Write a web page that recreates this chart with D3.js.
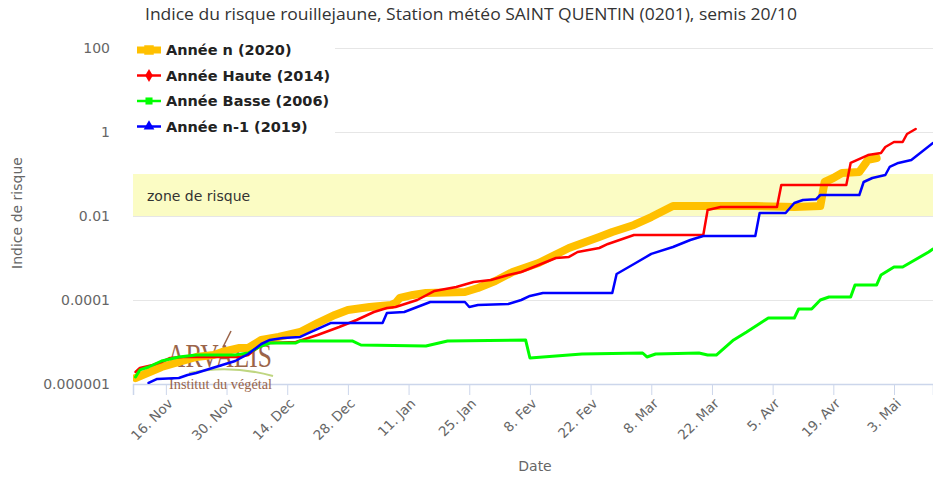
<!DOCTYPE html>
<html>
<head>
<meta charset="utf-8">
<script src="https://cdn.jsdelivr.net/npm/d3@7"></script>
<style>
    body { margin: 0; background: #fff; }
    svg { font-family: "DejaVu Sans", Verdana, sans-serif; }
</style>
</head>
<body>
<div id="chart"></div>
<script>
// dates are on a non-leap calendar (season Nov -> May)
const tickDates = ["2018-11-16", "2018-11-30", "2018-12-14", "2018-12-28", "2019-01-11", "2019-01-25",
    "2019-02-08", "2019-02-22", "2019-03-08", "2019-03-22", "2019-04-05", "2019-04-19", "2019-05-03"];
const tickLabels = ["16. Nov", "30. Nov", "14. Dec", "28. Dec", "11. Jan", "25. Jan",
    "8. Fev", "22. Fev", "8. Mar", "22. Mar", "5. Avr", "19. Avr", "3. Mai"];
const yTicks = [1e-6, 1e-4, 1e-2, 1, 100];
const yTickLabels = ["0.000001", "0.0001", "0.01", "1", "100"];
const riskZone = [0.01, 0.1];

const names = ["Année n (2020)", "Année Haute (2014)", "Année Basse (2006)", "Année n-1 (2019)"];
const colors = ["#ffc000", "#ff0000", "#00ff00", "#0000ff"];

const anneeN = [
    ["2018-11-09", 1.39e-6], ["2018-11-15", 2.54e-6], ["2018-11-19", 3.34e-6], ["2018-11-23", 4.4e-6],
    ["2018-11-27", 4.9e-6], ["2018-11-29", 5.78e-6], ["2018-12-03", 7.2e-6], ["2018-12-05", 7.2e-6],
    ["2018-12-08", 1.12e-5], ["2018-12-12", 1.32e-5], ["2018-12-17", 1.73e-5], ["2018-12-21", 2.83e-5],
    ["2018-12-25", 4.4e-5], ["2018-12-28", 5.78e-5], ["2019-01-02", 6.81e-5], ["2019-01-07", 7.6e-5],
    ["2019-01-08", 8.48e-5], ["2019-01-09", 1.12e-4], ["2019-01-12", 1.32e-4], ["2019-01-15", 1.47e-4],
    ["2019-01-24", 1.55e-4], ["2019-01-27", 1.93e-4], ["2019-01-31", 2.83e-4], ["2019-02-04", 4.64e-4],
    ["2019-02-10", 7.6e-4], ["2019-02-17", 1.73e-3], ["2019-02-24", 3.16e-3], ["2019-02-27", 4.16e-3],
    ["2019-03-04", 6.11e-3], ["2019-03-08", 9.46e-3], ["2019-03-13", 1.73e-2], ["2019-03-20", 1.73e-2],
    ["2019-04-01", 1.73e-2], ["2019-04-10", 1.64e-2], ["2019-04-16", 1.73e-2], ["2019-04-17", 6.45e-2],
    ["2019-04-19", 8.03e-2], ["2019-04-21", 0.106], ["2019-04-25", 0.112], ["2019-04-27", 0.216],
    ["2019-04-29", 0.24]
];

const anneeHaute = [
    ["2018-11-09", 1.93e-6], ["2018-11-10", 2.4e-6], ["2018-11-13", 2.83e-6], ["2018-11-15", 3.34e-6],
    ["2018-11-17", 4.16e-6], ["2018-11-20", 4.4e-6], ["2018-12-03", 4.4e-6], ["2018-12-05", 4.9e-6],
    ["2018-12-08", 8.48e-6], ["2018-12-10", 9.46e-6], ["2018-12-16", 1e-5], ["2018-12-21", 1.47e-5],
    ["2018-12-26", 2.28e-5], ["2018-12-30", 3.34e-5], ["2019-01-03", 5.18e-5], ["2019-01-06", 6.45e-5],
    ["2019-01-08", 6.81e-5], ["2019-01-13", 1e-4], ["2019-01-17", 1.64e-4], ["2019-01-22", 2.04e-4],
    ["2019-01-26", 2.68e-4], ["2019-01-30", 2.99e-4], ["2019-02-03", 3.94e-4], ["2019-02-06", 4.64e-4],
    ["2019-02-10", 6.81e-4], ["2019-02-14", 1e-3], ["2019-02-17", 1.06e-3], ["2019-02-19", 1.39e-3],
    ["2019-02-24", 1.73e-3], ["2019-02-26", 2.16e-3], ["2019-03-04", 3.53e-3], ["2019-03-20", 3.53e-3],
    ["2019-03-21", 1.39e-2], ["2019-03-24", 1.64e-2], ["2019-04-06", 1.64e-2], ["2019-04-07", 5.47e-2],
    ["2019-04-22", 5.47e-2], ["2019-04-23", 0.183], ["2019-04-27", 0.283], ["2019-04-30", 0.316],
    ["2019-05-01", 0.44], ["2019-05-03", 0.578], ["2019-05-05", 0.578], ["2019-05-06", 0.895],
    ["2019-05-08", 1.18]
];

const anneeBasse = [
    ["2018-11-09", 1.47e-6], ["2018-11-10", 2.16e-6], ["2018-11-12", 2.54e-6], ["2018-11-15", 3.53e-6],
    ["2018-11-19", 4.4e-6], ["2018-11-23", 4.9e-6], ["2018-12-02", 4.9e-6], ["2018-12-05", 5.47e-6],
    ["2018-12-08", 8.03e-6], ["2018-12-10", 9.46e-6], ["2018-12-16", 9.46e-6], ["2018-12-17", 1.06e-5],
    ["2018-12-29", 1.06e-5], ["2018-12-31", 8.48e-6], ["2019-01-15", 8.03e-6], ["2019-01-20", 1.06e-5],
    ["2019-02-07", 1.12e-5], ["2019-02-08", 4.16e-6], ["2019-02-14", 4.64e-6], ["2019-02-20", 5.18e-6],
    ["2019-03-06", 5.47e-6], ["2019-03-07", 4.4e-6], ["2019-03-09", 5.18e-6], ["2019-03-19", 5.47e-6],
    ["2019-03-21", 4.9e-6], ["2019-03-23", 4.9e-6], ["2019-03-27", 1.12e-5], ["2019-03-30", 1.73e-5],
    ["2019-04-04", 3.73e-5], ["2019-04-10", 3.73e-5], ["2019-04-11", 6.11e-5], ["2019-04-14", 6.11e-5],
    ["2019-04-16", 1e-4], ["2019-04-18", 1.18e-4], ["2019-04-23", 1.18e-4], ["2019-04-24", 2.28e-4],
    ["2019-04-29", 2.28e-4], ["2019-04-30", 3.94e-4], ["2019-05-03", 6.11e-4], ["2019-05-05", 6.11e-4],
    ["2019-05-07", 8.03e-4], ["2019-05-11", 1.39e-3], ["2019-05-12", 1.64e-3]
];

const anneeN1 = [
    ["2018-11-12", 1.06e-6], ["2018-11-14", 1.32e-6], ["2018-11-19", 1.39e-6], ["2018-11-21", 1.64e-6],
    ["2018-11-23", 1.83e-6], ["2018-11-26", 2.28e-6], ["2018-11-29", 2.83e-6], ["2018-12-02", 3.53e-6],
    ["2018-12-05", 5.18e-6], ["2018-12-08", 8.96e-6], ["2018-12-10", 1.12e-5], ["2018-12-13", 1.25e-5],
    ["2018-12-17", 1.32e-5], ["2018-12-19", 1.64e-5], ["2018-12-24", 2.83e-5], ["2019-01-05", 2.83e-5],
    ["2019-01-06", 4.9e-5], ["2019-01-10", 5.18e-5], ["2019-01-13", 6.81e-5], ["2019-01-16", 8.96e-5],
    ["2019-01-24", 8.96e-5], ["2019-01-25", 6.81e-5], ["2019-01-27", 7.6e-5], ["2019-02-03", 8.03e-5],
    ["2019-02-06", 1e-4], ["2019-02-08", 1.25e-4], ["2019-02-11", 1.47e-4], ["2019-02-27", 1.47e-4],
    ["2019-02-28", 4.16e-4], ["2019-03-04", 7.2e-4], ["2019-03-08", 1.25e-3], ["2019-03-13", 1.83e-3],
    ["2019-03-17", 2.68e-3], ["2019-03-20", 3.34e-3], ["2019-04-01", 3.34e-3], ["2019-04-02", 1.18e-2],
    ["2019-04-08", 1.18e-2], ["2019-04-10", 2.04e-2], ["2019-04-12", 2.4e-2], ["2019-04-15", 2.5e-2],
    ["2019-04-16", 3.16e-2], ["2019-04-25", 3.16e-2], ["2019-04-26", 6.45e-2], ["2019-04-28", 8.03e-2],
    ["2019-05-01", 9.46e-2], ["2019-05-02", 0.147], ["2019-05-04", 0.183], ["2019-05-07", 0.216],
    ["2019-05-12", 0.547]
];

const series = [anneeN, anneeHaute, anneeBasse, anneeN1];
const widths = [8, 2.5, 3, 2.5];
const symbols = [d3.symbolSquare, d3.symbolDiamond, d3.symbolSquare, d3.symbolTriangle];

let graph = {
    margin: {top: 48, right: 0, bottom: 93, left: 133},
    width: 933,
    height: 477
};
let w = graph.width - graph.margin.left - graph.margin.right;
let h = graph.height - graph.margin.top - graph.margin.bottom;
let parse = d3.timeParse("%Y-%m-%d");

let svg = d3.select("#chart").append("svg")
    .attr("width", graph.width).attr("height", graph.height);

svg.append("text")
    .attr("x", 471).attr("y", 20)
    .attr("text-anchor", "middle")
    .attr("font-family", "Open Sans, sans-serif")
    .attr("font-size", 16).attr("fill", "#333")
    .attr("textLength", 652).attr("lengthAdjust", "spacingAndGlyphs")
    .text("Indice du risque rouillejaune, Station météo SAINT QUENTIN (0201), semis 20/10");

let g = svg.append("g").attr("transform", "translate(" + graph.margin.left + "," + graph.margin.top + ")");

let x = d3.scaleTime()
    .domain([new Date(2018, 10, 8, 10), new Date(2019, 4, 12)])
    .range([0, w]);
let y = d3.scaleLog().domain([1e-6, 100]).range([h, 0]);

// grid
g.append("g").selectAll("line").data(yTicks).enter().append("line")
    .attr("x1", 0).attr("x2", w)
    .attr("y1", d => Math.round(y(d)) + 0.5).attr("y2", d => Math.round(y(d)) + 0.5)
    .attr("stroke", "#e6e6e6");

// zone de risque
g.append("rect")
    .attr("x", 0).attr("width", w)
    .attr("y", y(riskZone[1])).attr("height", y(riskZone[0]) - y(riskZone[1]))
    .attr("fill", "#fbfcc4");
g.append("text")
    .attr("x", 14).attr("y", (y(riskZone[0]) + y(riskZone[1])) / 2 + 1)
    .attr("dy", "0.35em").attr("font-size", 14).attr("fill", "#333")
    .text("zone de risque");

// x axis
let xAxis = g.append("g").attr("transform", "translate(0," + h + ")")
    .call(d3.axisBottom(x).tickValues(tickDates.map(parse)).tickSize(11).tickFormat((d, i) => tickLabels[i]));
xAxis.select(".domain").attr("stroke", "#ccd6eb").attr("stroke-width", 1.5);
xAxis.selectAll(".tick line").attr("stroke", "#ccd6eb");
xAxis.selectAll(".tick text")
    .attr("font-family", "DejaVu Sans, sans-serif").attr("font-size", 13.5).attr("fill", "#666")
    .attr("text-anchor", "end").attr("dy", "0.35em")
    .attr("transform", "translate(4,17) rotate(-45)").attr("y", 0).attr("x", 0);

// y axis labels
let yAxis = g.append("g")
    .call(d3.axisLeft(y).tickValues(yTicks).tickSize(0).tickFormat((d, i) => yTickLabels[i]));
yAxis.select(".domain").remove();
yAxis.selectAll(".tick text")
    .attr("font-family", "DejaVu Sans, sans-serif").attr("font-size", 14).attr("fill", "#666")
    .attr("x", -23);

svg.append("text")
    .attr("transform", "translate(22,213) rotate(-90)")
    .attr("text-anchor", "middle").attr("font-size", 14).attr("fill", "#666")
    .text("Indice de risque");
svg.append("text")
    .attr("x", 535).attr("y", 471)
    .attr("text-anchor", "middle").attr("font-size", 14).attr("fill", "#666")
    .text("Date");

// logo (filigrane)
let logo = g.append("g").attr("transform", "translate(34,319)").attr("opacity", 0.85);
logo.append("text").attr("x", 0).attr("y", 0)
    .attr("font-family", "Liberation Serif, serif").attr("font-size", 33).attr("fill", "#8a4a2a")
    .attr("textLength", 105).attr("lengthAdjust", "spacingAndGlyphs").text("ARVALIS");
logo.append("path").attr("d", "M56,-20 L64,-36").attr("stroke", "#8a4a2a").attr("stroke-width", 1.5);
logo.append("path").attr("d", "M22,6 Q62,-3 106,9").attr("fill", "none").attr("stroke", "#b5cf6b").attr("stroke-width", 2);
logo.append("text").attr("x", 2).attr("y", 22)
    .attr("font-family", "Liberation Serif, serif").attr("font-size", 15).attr("fill", "#8a4a2a")
    .attr("textLength", 103).attr("lengthAdjust", "spacingAndGlyphs").text("Institut du végétal");

// courbes
g.append("clipPath").attr("id", "clip").append("rect")
    .attr("x", 0).attr("y", -10).attr("width", w).attr("height", h + 10);

let line = d3.line()
    .x(d => x(parse(d[0])))
    .y(d => y(d[1]));

series.forEach(function (s, i) {
    g.append("path")
        .datum(s)
        .attr("clip-path", "url(#clip)")
        .attr("fill", "none")
        .attr("stroke", colors[i])
        .attr("stroke-width", widths[i])
        .attr("stroke-linejoin", "round")
        .attr("stroke-linecap", "round")
        .attr("d", line);
});

// legend
let legend = svg.append("g");
legend.append("rect").attr("x", 133).attr("y", 36).attr("width", 202).attr("height", 104).attr("fill", "#fff");
names.forEach(function (n, i) {
    let ly = 50 + i * 25.5;
    let item = legend.append("g").attr("transform", "translate(137," + ly + ")");
    item.append("line").attr("x1", 0).attr("x2", 24).attr("y1", 0).attr("y2", 0)
        .attr("stroke", colors[i]).attr("stroke-width", i === 0 ? 7 : 2.5);
    item.append("path").attr("transform", "translate(12,0)")
        .attr("d", d3.symbol().type(symbols[i]).size(i === 0 ? 90 : 50))
        .attr("fill", colors[i]);
    item.append("text").attr("x", 29).attr("dy", "0.35em")
        .attr("font-size", 14.5).attr("font-weight", "bold").attr("fill", "#222")
        .text(n);
});
</script>
</body>
</html>
